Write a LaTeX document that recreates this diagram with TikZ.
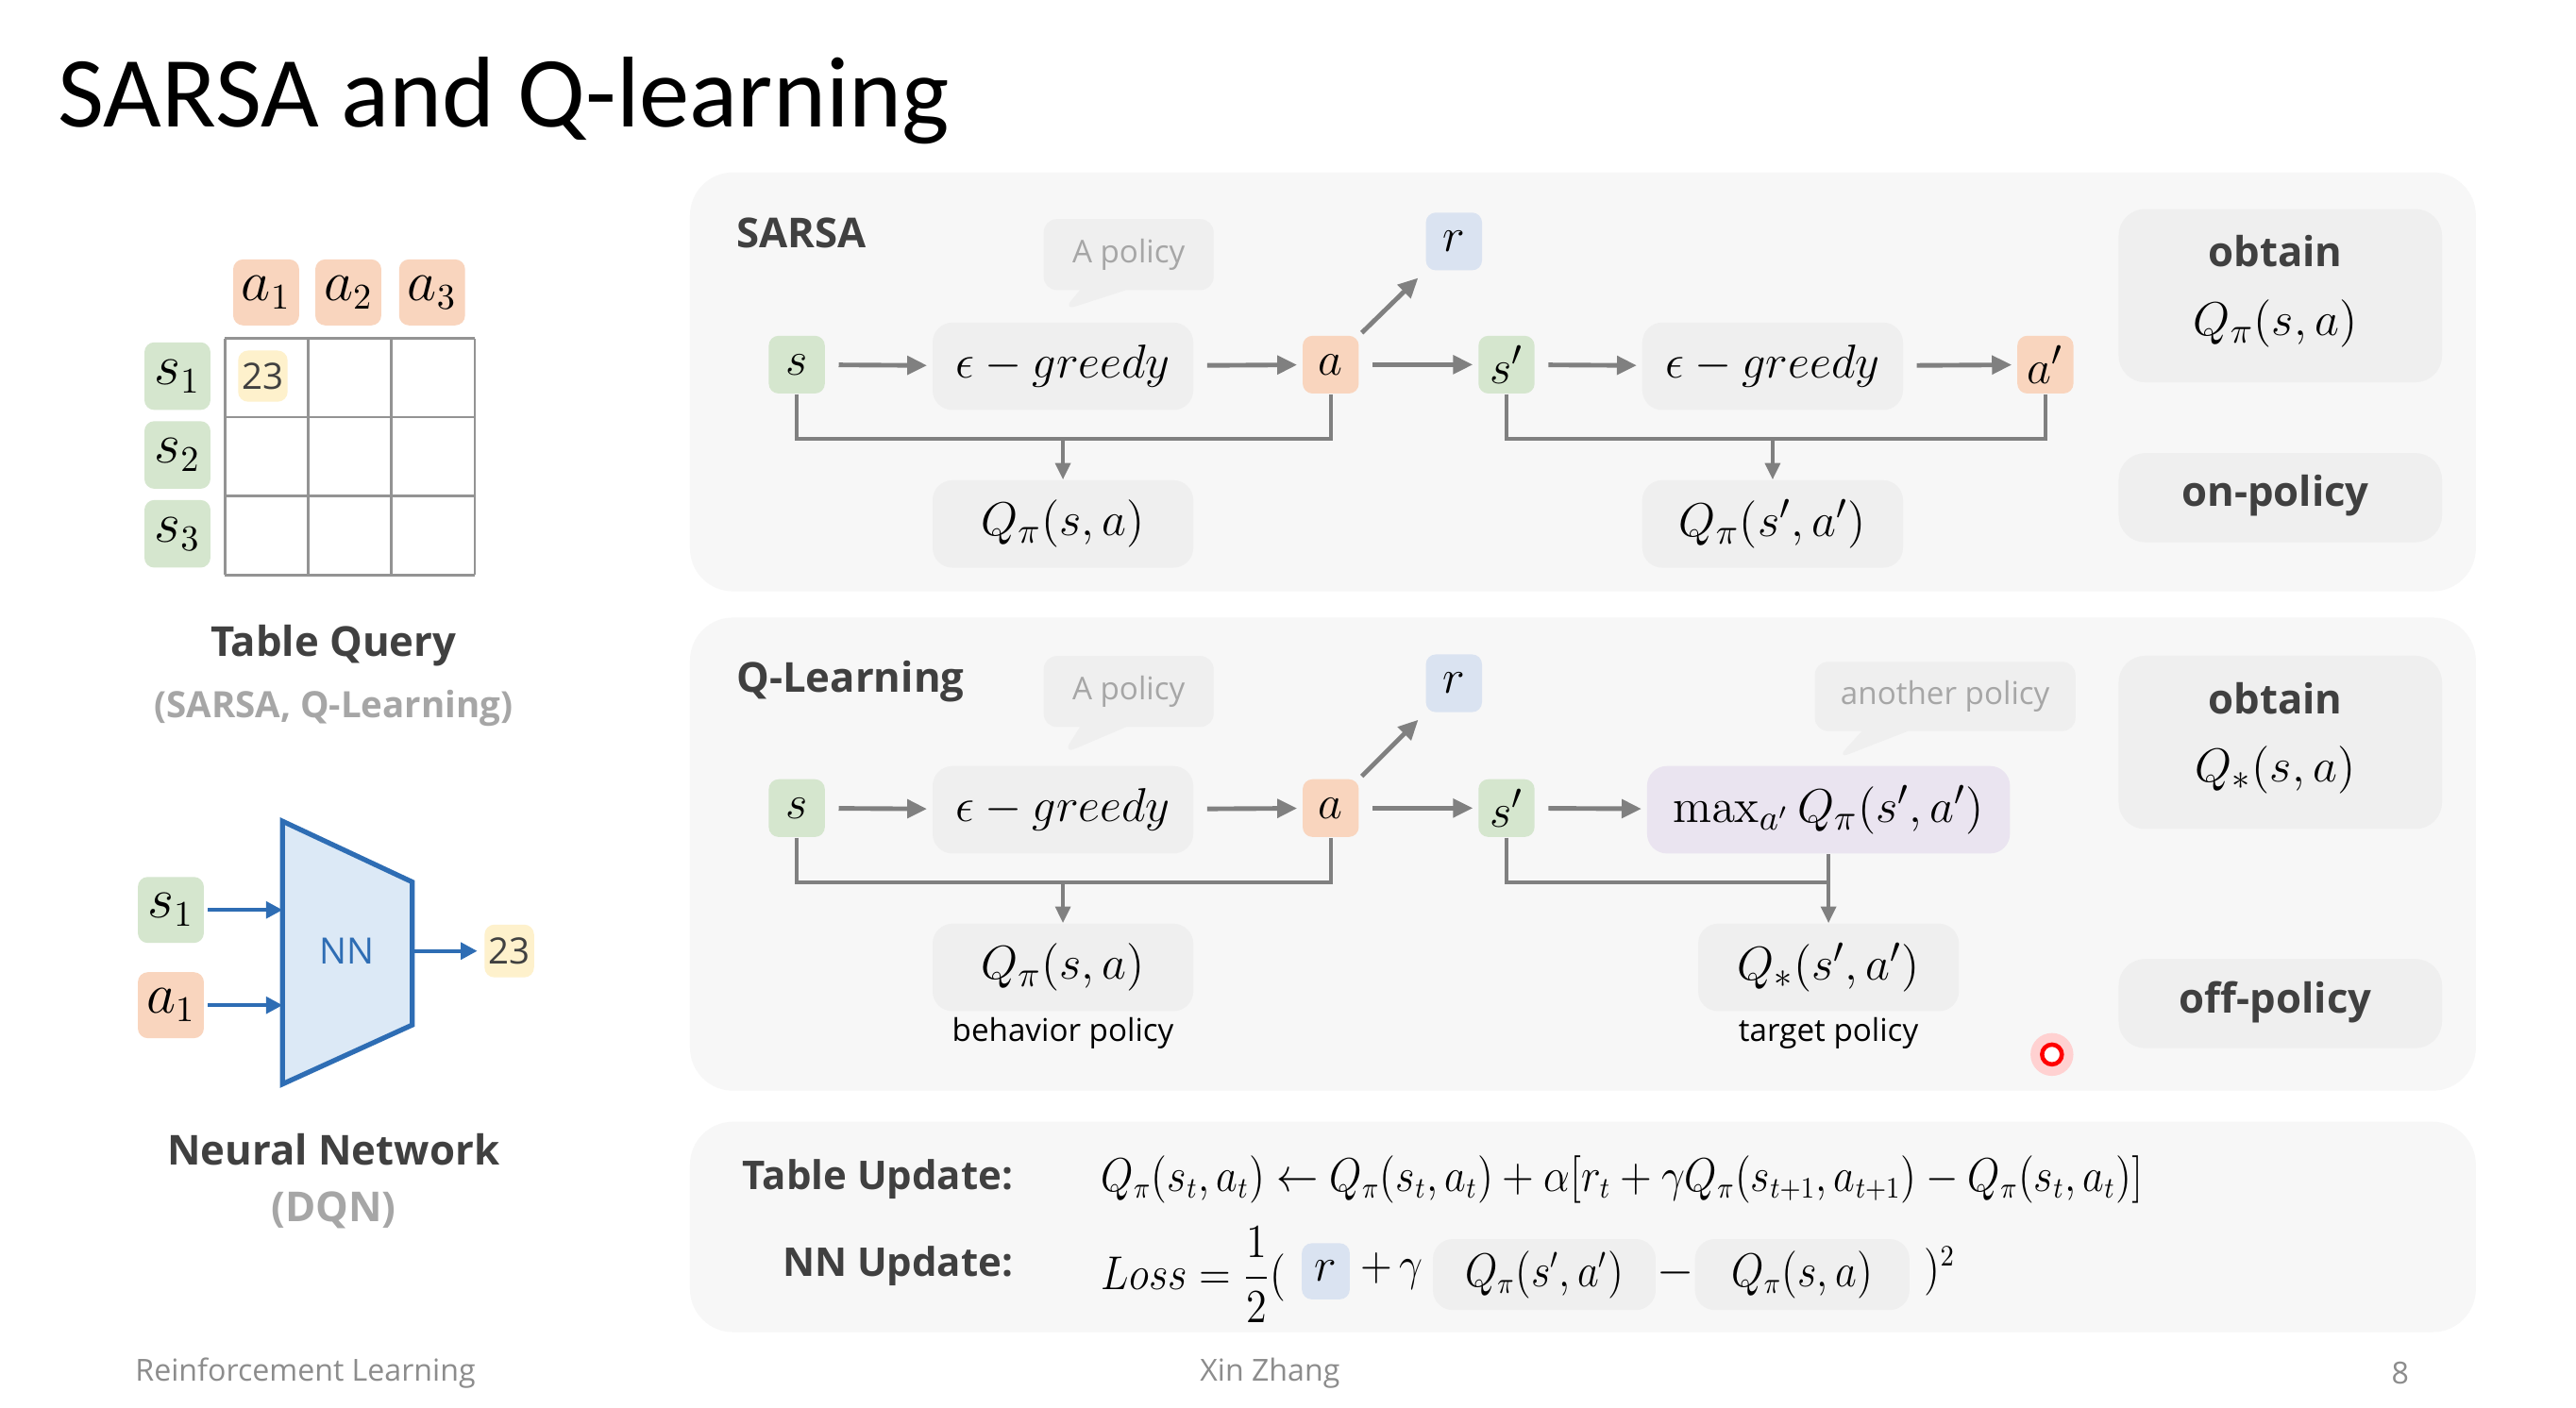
\documentclass[tikz,border=0pt]{standalone}
\usepackage{amsmath}
\usepackage[no-math]{fontspec}
\setmainfont{Open Sans}
\newfontfamily\slidefont{Carlito}
\usetikzlibrary{arrows.meta, calc, shapes.callouts}

\definecolor{stgreen}{HTML}{D5E6CE}
\definecolor{actorange}{HTML}{F9D5BE}
\definecolor{rwblue}{HTML}{DAE3F1}
\definecolor{valyellow}{HTML}{FEF1CC}
\definecolor{panelgray}{HTML}{F7F7F7}
\definecolor{boxgray}{HTML}{EFEFEF}
\definecolor{maxlilac}{HTML}{EAE4F0}
\definecolor{linegray}{HTML}{808080}
\definecolor{textdark}{HTML}{404040}
\definecolor{textlight}{HTML}{A6A6A6}
\definecolor{footgray}{HTML}{8C8C8C}
\definecolor{nnblue}{HTML}{2E6DB4}
\definecolor{nnfill}{HTML}{DCE9F6}

\newcommand\eqsize{\fontsize{15}{18}\selectfont}
\newcommand\fmsize{\fontsize{13.5}{16}\selectfont}
\newcommand\tabsize{\fontsize{16}{18}\selectfont}
\newcommand\lblsize{\fontsize{12.5}{15}\selectfont\bfseries}
\newcommand\tipsize{\fontsize{9.5}{11}\selectfont}
\newcommand\narrow[1]{\scalebox{0.88}[1]{#1}}

\begin{document}
\begin{tikzpicture}[
  x=0.0175cm, y=-0.0175cm,
  stbox/.style={rounded corners=3pt, inner sep=0pt, fill=stgreen,
    minimum width=17pt, minimum height=17.5pt, font=\eqsize},
  actbox/.style={stbox, fill=actorange},
  rwdbox/.style={stbox, fill=rwblue},
  valbox/.style={stbox, fill=valyellow, minimum width=15pt, minimum height=15.5pt,
    text=textdark, font=\fontsize{11}{11}\selectfont},
  evalbox/.style={rounded corners=6pt, inner sep=0pt, fill=boxgray,
    minimum width=79pt, minimum height=26.5pt, font=\eqsize},
  sidebox/.style={rounded corners=8pt, inner sep=0pt, fill=boxgray,
    minimum width=98pt, minimum height=27pt},
  panelbg/.style={fill=panelgray, rounded corners=13pt},
  flowarr/.style={draw=linegray, line width=1.4pt, -{Triangle[length=6pt,width=5.5pt]},
    shorten <=4pt, shorten >=1.5pt},
  forkline/.style={draw=linegray, line width=1.1pt},
  forkarr/.style={forkline, -{Triangle[length=5pt,width=4.5pt]}},
  tipnote/.style={rectangle callout, rounded corners=4pt, fill=boxgray, text=textlight,
    font=\tipsize, inner sep=0pt, callout pointer width=14pt},
  titlelbl/.style={text=textdark, font=\lblsize},
  sublbl/.style={text=textlight, font=\fontsize{11}{13}\selectfont\bfseries},
  gridline/.style={draw=gray!85, line width=0.8pt},
  nnarr/.style={draw=nnblue, line width=1.2pt, -{Triangle[length=5pt,width=5pt]}},
  footer/.style={text=footgray, inner sep=0pt, font=\fontsize{9.2}{11}\selectfont},
]
  \useasboundingbox (0,0) rectangle (1568,857);
  \fill[white] (0,0) rectangle (1568,857);

  \node[anchor=base west, inner sep=0pt, font=\slidefont\fontsize{30.5}{31}\selectfont] (title) at (35,77) {SARSA and Q-learning};

  % table query
  \foreach \gx in {137,187.67,238.33,289} \draw[gridline] (\gx,206) -- (\gx,350);
  \foreach \gy in {206,254,302,350} \draw[gridline] (137,\gy) -- (289,\gy);
  \node[actbox, minimum width=20pt, minimum height=20pt, font=\tabsize] (tq_a1) at (162,178) {$a_1$};
  \node[actbox, minimum width=20pt, minimum height=20pt, font=\tabsize] (tq_a2) at (212,178) {$a_2$};
  \node[actbox, minimum width=20pt, minimum height=20pt, font=\tabsize] (tq_a3) at (263,178) {$a_3$};
  \node[stbox, minimum width=20pt, minimum height=20.5pt, font=\tabsize] (tq_s1) at (108,229) {$s_1$};
  \node[stbox, minimum width=20pt, minimum height=20.5pt, font=\tabsize] (tq_s2) at (108,277) {$s_2$};
  \node[stbox, minimum width=20pt, minimum height=20.5pt, font=\tabsize] (tq_s3) at (108,325) {$s_3$};
  \node[valbox] (tq_val) at (160,229) {23};
  \node[titlelbl] (tq_lbl) at (203,393) {Table Query};
  \node[sublbl] (tq_sub) at (203,431) {(SARSA, Q-Learning)};

  % neural network
  \coordinate (nn_tl) at (172,500);
  \draw[draw=nnblue, fill=nnfill, line width=1.5pt, line join=miter]
    (nn_tl) -- (251,537) -- (251,624) -- (172,660) -- cycle;
  \node[text=nnblue, font=\fontsize{11}{11}\selectfont] (nn_body) at (211,579) {NN};
  \node[stbox, minimum width=20pt, minimum height=20pt, font=\tabsize] (nn_s1) at (104,554) {$s_1$};
  \node[actbox, minimum width=20pt, minimum height=20pt, font=\tabsize] (nn_a1) at (104,612) {$a_1$};
  \node[valbox, minimum height=16pt] (nn_val) at (310,579) {23};
  \coordinate (nn_mid) at (251,579);
  \draw[nnarr, shorten <=1pt] (nn_s1.east) -- (nn_s1.east -| nn_tl);
  \draw[nnarr, shorten <=1pt] (nn_a1.east) -- (nn_a1.east -| nn_tl);
  \draw[nnarr, shorten >=2pt] (nn_mid) -- (nn_val.west);
  \node[titlelbl] (nn_lbl) at (203,700) {Neural Network};
  \node[sublbl, font=\lblsize] (nn_sub) at (203,737) {(DQN)};

  % SARSA
  \fill[panelbg] (420,105) rectangle (1507,360);
  \node[titlelbl, anchor=west, inner sep=0pt] (sa_lbl) at (448,142) {SARSA};
  \node[stbox] (sa_s) at (485,222) {$s$};
  \node[evalbox] (sa_eg) at (647,223) {$\epsilon - greedy$};
  \node[actbox] (sa_a) at (810,222) {$a$};
  \node[rwdbox] (sa_r) at (885,147) {$r$};
  \node[stbox] (sa_s2) at (917,222) {$s'$};
  \node[evalbox] (sa_eg2) at (1079,223) {$\epsilon - greedy$};
  \node[actbox] (sa_a2) at (1245,222) {$a'$};
  \node[evalbox] (sa_q) at (647,319) {$Q_\pi(s,a)$};
  \node[evalbox] (sa_q2) at (1079,319) {$Q_\pi(s',a')$};
  \node[tipnote, minimum width=51.5pt, minimum height=21.5pt,
    callout absolute pointer={($(sa_eg.north)+(0,-7)$)}] (sa_tip) at (687,155) {A policy};
  \draw[flowarr] (sa_s) -- (sa_eg);
  \draw[flowarr] (sa_eg) -- (sa_a);
  \draw[flowarr, shorten <=1pt, shorten >=3pt] (sa_a.north east) -- (sa_r.south west);
  \draw[flowarr] (sa_a) -- (sa_s2);
  \draw[flowarr] (sa_s2) -- (sa_eg2);
  \draw[flowarr] (sa_eg2) -- (sa_a2);
  \coordinate (sa_j1) at (647,267);
  \coordinate (sa_j2) at (1079,267);
  \draw[forkline] (sa_s.south) |- (sa_j1) -| (sa_a.south);
  \draw[forkarr] (sa_j1) -- (sa_q.north);
  \draw[forkline] (sa_s2.south) |- (sa_j2) -| (sa_a2.south);
  \draw[forkarr] (sa_j2) -- (sa_q2.north);
  \node[sidebox, minimum height=52.5pt] (sa_ob) at (1388,180) {};
  \node[titlelbl] (sa_obt) at (1385,153) {obtain};
  \node[font=\eqsize] (sa_obq) at (1385,197) {$Q_\pi(s,a)$};
  \node[sidebox] (sa_on) at (1388,303) {};
  \node[titlelbl] (sa_ont) at (1385,302) {on-policy};

  % Q-learning
  \fill[panelbg] (420,376) rectangle (1507,664);
  \node[titlelbl, anchor=west, inner sep=0pt] (ql_lbl) at (448,415) {Q-Learning};
  \node[stbox] (ql_s) at (485,492) {$s$};
  \node[evalbox] (ql_eg) at (647,493) {$\epsilon - greedy$};
  \node[actbox] (ql_a) at (810,492) {$a$};
  \node[rwdbox] (ql_r) at (885,416) {$r$};
  \node[stbox] (ql_s2) at (917,492) {$s'$};
  \node[evalbox, fill=maxlilac, minimum width=110pt] (ql_max) at (1113,493) {$\max_{a'} Q_\pi(s',a')$};
  \node[evalbox] (ql_q) at (647,589) {$Q_\pi(s,a)$};
  \node[evalbox] (ql_qs) at (1113,589) {$Q_*(s',a')$};
  \node[font=\tipsize] (ql_beh) at (647,629) {behavior policy};
  \node[font=\tipsize] (ql_tgt) at (1113,629) {target policy};
  \node[tipnote, minimum width=51.5pt, minimum height=21.5pt,
    callout absolute pointer={($(ql_eg.north)+(0,-7)$)}] (ql_tip) at (687,421) {A policy};
  \node[tipnote, minimum width=79pt, minimum height=21pt,
    callout absolute pointer={($(ql_max.north)+(5,-4)$)}] (ql_tip2) at (1184,424) {another policy};
  \draw[flowarr] (ql_s) -- (ql_eg);
  \draw[flowarr] (ql_eg) -- (ql_a);
  \draw[flowarr, shorten <=1pt, shorten >=3pt] (ql_a.north east) -- (ql_r.south west);
  \draw[flowarr] (ql_a) -- (ql_s2);
  \draw[flowarr] (ql_s2) -- (ql_max);
  \coordinate (ql_j1) at (647,537);
  \coordinate (ql_j2) at (1113,537);
  \draw[forkline] (ql_s.south) |- (ql_j1) -| (ql_a.south);
  \draw[forkarr] (ql_j1) -- (ql_q.north);
  \draw[forkline] (ql_s2.south) |- (ql_j2);
  \draw[forkarr] (ql_max.south) -- (ql_qs.north);
  \node[sidebox, minimum height=52.5pt] (ql_ob) at (1388,452) {};
  \node[titlelbl] (ql_obt) at (1385,425) {obtain};
  \node[font=\eqsize] (ql_obq) at (1385,469) {$Q_*(s,a)$};
  \node[sidebox] (ql_off) at (1388,611) {};
  \node[titlelbl] (ql_offt) at (1385,610) {off-policy};
  \node[circle, fill=red!18, minimum size=13pt, inner sep=0pt] (laser_glow) at (1249,642) {};
  \node[circle, draw=red, line width=1.3pt, fill=white, minimum size=6pt, inner sep=0pt] (laser) at (1249,642) {};

  % update rules
  \fill[panelbg] (420,683) rectangle (1507,811);
  \node[titlelbl, anchor=east, inner sep=0pt, font=\fontsize{12}{14}\selectfont\bfseries] (up_tab) at (617,718) {Table Update:};
  \node[titlelbl, anchor=east, inner sep=0pt, font=\fontsize{12}{14}\selectfont\bfseries] (up_nn) at (617,771) {NN Update:};
  \node[anchor=west, inner sep=0pt, font=\fmsize] (up_tabf) at (670,718)
    {\narrow{$Q_\pi(s_t,a_t) \leftarrow Q_\pi(s_t,a_t) + \alpha[r_t + \gamma Q_\pi(s_{t+1},a_{t+1}) - Q_\pi(s_t,a_t)]$}};
  \node[anchor=west, inner sep=0pt, font=\fmsize] (up_loss) at (670,776) {\narrow{$Loss = \dfrac{1}{2}($}};
  \node[rwdbox, minimum width=14.5pt, minimum height=17pt, font=\fmsize] (up_r) at (807,774) {$r$};
  \node[anchor=west, inner sep=0pt, font=\fmsize] (up_pg) at (828,774) {\narrow{$+\,\gamma$}};
  \node[evalbox, minimum width=67.5pt, minimum height=21.5pt, font=\fmsize] (up_tq) at (940,776) {\narrow{$Q_\pi(s',a')$}};
  \node[font=\fmsize] (up_minus) at (1020,775) {$-$};
  \node[evalbox, minimum width=65pt, minimum height=21.5pt, font=\fmsize] (up_cq) at (1097,776) {\narrow{$Q_\pi(s,a)$}};
  \node[anchor=west, inner sep=0pt, font=\fmsize] (up_sq) at (1171,774) {\narrow{$)^2$}};

  % footer
  \node[footer, anchor=west] (ft_course) at (82,836) {Reinforcement Learning};
  \node[footer] (ft_name) at (773,836) {Xin Zhang};
  \node[footer] (ft_page) at (1461,836) {8};
\end{tikzpicture}
\end{document}
